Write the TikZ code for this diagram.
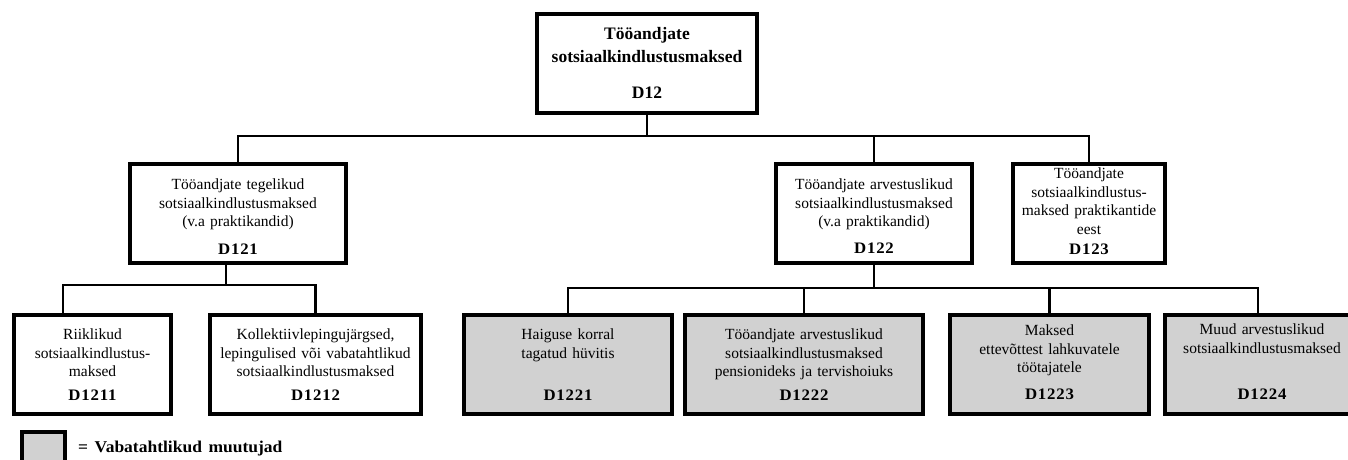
\documentclass[tikz,border=0pt]{standalone}
\usepackage{fontspec}
\setmainfont{Liberation Serif}[WordSpace=1.35]
\newfontfamily\dfont{Liberation Serif}[FakeStretch=1.05,LetterSpace=5]
\newfontfamily\topfont{Liberation Serif}[WordSpace=1.2]
\newfontfamily\legfont{Liberation Serif}[WordSpace=1.5,FakeStretch=1.06]
\newcommand\mkbox[6]{\parbox[c][#1][t]{#2}{\centering\vspace*{#3}\strut #4\par\vfill{\dfont\bfseries\fontsize{16}{19}\selectfont\strut #5}\par\vspace*{#6}}}
\newcommand\mktop[6]{\parbox[c][#1][t]{#2}{\centering\vspace*{#3}\strut #4\par\vfill{\strut #5}\par\vspace*{#6}}}
\tikzset{
  box/.style={draw, line width=3.6pt, inner sep=0pt, font=\fontsize{15.5}{18.5}\selectfont},
  vol/.style={box, fill=black!18},
  conn/.style={line width=2.7pt},
}
\begin{document}
\begin{tikzpicture}[x=1pt,y=-1pt]
\useasboundingbox (0,0) rectangle (1348,460);
\begin{scope}
\clip (0,0) rectangle (1348,460);
% top
\node[box, font=\topfont\bfseries\fontsize{17.5}{23}\selectfont] (d12) at (647,63.5)
  {\mktop{99pt}{220pt}{9pt}{Tööandjate\\sotsiaalkindlustusmaksed}{D12}{8pt}};
% level 2
\node[box] (d121) at (238,213.5)
  {\mkbox{99pt}{216pt}{13pt}{Tööandjate tegelikud\\sotsiaalkindlustusmaksed\\(v.a praktikandid)}{D121}{2.5pt}};
\node[box] (d122) at (874,213.5)
  {\mkbox{99pt}{196pt}{13pt}{Tööandjate arvestuslikud\\sotsiaalkindlustusmaksed\\(v.a praktikandid)}{D122}{3.5pt}};
\node[box] (d123) at (1089,213.5)
  {\mkbox{99pt}{152pt}{2pt}{Tööandjate\\sotsiaalkindlustus-\\maksed praktikantide\\eest}{D123}{2.5pt}};
% level 3
\node[box] (d1211) at (92.5,364.5)
  {\mkbox{99pt}{157pt}{12pt}{Riiklikud\\sotsiaalkindlustus-\\maksed}{D1211}{7.5pt}};
\node[box] (d1212) at (315.5,364.5)
  {\mkbox{99pt}{211pt}{12pt}{Kollektiivlepingujärgsed,\\lepingulised või vabatahtlikud\\sotsiaalkindlustusmaksed}{D1212}{7.5pt}};
\node[vol] (d1221) at (568,364.5)
  {\mkbox{99pt}{208pt}{12pt}{Haiguse korral\\tagatud hüvitis}{D1221}{7.5pt}};
\node[vol] (d1222) at (804,364.5)
  {\mkbox{99pt}{238pt}{12pt}{Tööandjate arvestuslikud\\sotsiaalkindlustusmaksed\\pensionideks ja tervishoiuks}{D1222}{7.5pt}};
\node[vol] (d1223) at (1049.5,364.5)
  {\mkbox{99pt}{199pt}{8pt}{Maksed\\ettevõttest lahkuvatele\\töötajatele}{D1223}{9pt}};
\node[vol] (d1224) at (1262,364.5)
  {\mkbox{99pt}{194pt}{7pt}{Muud arvestuslikud\\sotsiaalkindlustusmaksed}{D1224}{9pt}};
% connectors
\coordinate (j1) at (647,136);
\draw[conn] (d12.south) -- (j1);
\draw[conn] (d121.north) |- (j1) -| (d123.north);
\draw[conn] (d122.north) -- (d122.north |- j1);
\coordinate (j2) at (226,285);
\draw[conn] ([xshift=-12pt]d121.south) -- (j2);
\draw[conn] ([xshift=-29.5pt]d1211.north) |- (j2) -| (d1212.north);
\coordinate (j3) at (874,288);
\draw[conn] (d122.south) -- (j3);
\draw[conn] (d1221.north) |- (j3) -| ([xshift=-4pt]d1224.north);
\draw[conn] (d1222.north) -- (d1222.north |- j3);
\draw[conn] (d1223.north) -- (d1223.north |- j3);
% legend
\node[vol, minimum width=43pt, minimum height=36pt] (leg) at (43.5,450) {};
\node[anchor=base west, inner sep=0pt, font=\legfont\bfseries\fontsize{16.5}{19}\selectfont] (legt) at (78,452) {= Vabatahtlikud muutujad};
\end{scope}
\end{tikzpicture}
\end{document}
